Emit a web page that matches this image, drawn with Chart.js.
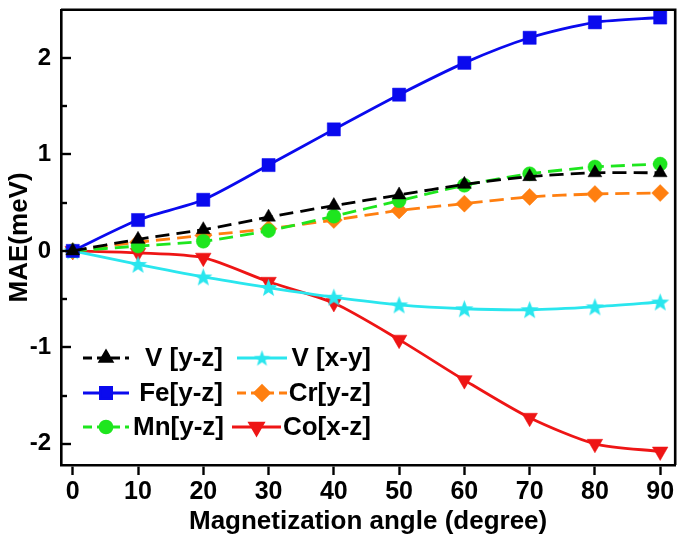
<!DOCTYPE html>
<html><head><meta charset="utf-8">
<script src="https://cdn.jsdelivr.net/npm/chart.js@4/dist/chart.umd.min.js"></script>
<style>html,body{margin:0;padding:0;background:#fff}#wrap{width:685px;height:541px}</style>
</head><body><div id="wrap"><canvas id="c" width="685" height="541"></canvas></div>
<script>
// ---- data ----
const angles = [0, 10, 20, 30, 40, 50, 60, 70, 80, 90];
const vYZ  = [0, 0.12, 0.22, 0.35, 0.47, 0.58, 0.69, 0.77, 0.81, 0.81];
const feYZ = [0, 0.32, 0.53, 0.89, 1.26, 1.62, 1.95, 2.21, 2.37, 2.42];
const mnYZ = [0, 0.05, 0.10, 0.21, 0.36, 0.52, 0.68, 0.80, 0.87, 0.90];
const vXY  = [0, -0.14, -0.27, -0.38, -0.48, -0.56, -0.60, -0.61, -0.58, -0.53];
const crYZ = [0, 0.09, 0.16, 0.23, 0.32, 0.42, 0.49, 0.56, 0.59, 0.60];
const coXZ = [0, -0.02, -0.07, -0.32, -0.54, -0.92, -1.34, -1.73, -2.00, -2.08];
const seriesNames = ['V [y-z]', 'Fe[y-z]', 'Mn[y-z]', 'V [x-y]', 'Cr[y-z]', 'Co[x-z]'];
const xTickValues = [0, 10, 20, 30, 40, 50, 60, 70, 80, 90];
const yTickValues = [-2, -1.5, -1, -0.5, 0, 0.5, 1, 1.5, 2];
const xTitle = 'Magnetization angle (degree)';
const yTitle = 'MAE(meV)';

// ---- styles ----
const FONT = "'Liberation Sans', Arial, sans-serif";
function starCanvas(color, size) {
  const c = document.createElement('canvas');
  c.width = size; c.height = size;
  const g = c.getContext('2d');
  const cx = size / 2, cy = size / 2 + 0.8, R = size / 2, r = R * 0.42;
  g.beginPath();
  for (let i = 0; i < 10; i++) {
    const rad = (i % 2 === 0) ? R : r;
    const a = -Math.PI / 2 + i * Math.PI / 5;
    const px = cx + rad * Math.cos(a), py = cy + rad * Math.sin(a);
    if (i === 0) g.moveTo(px, py); else g.lineTo(px, py);
  }
  g.closePath();
  g.fillStyle = color; g.fill();
  return c;
}
const cyan = '#2ae6ee';
const starImg = starCanvas(cyan, 19);
const starSmall = starCanvas(cyan, 17);

const values = [vYZ, feYZ, mnYZ, vXY, crYZ, coXZ];
const DASH = [14, 7];
const styles = [
  {color: '#000000', dash: DASH, ps: 'triangle', r: 8, rot: 0},
  {color: '#0a0aee', dash: [], ps: 'rect', r: 9.3, rot: 0},
  {color: '#1ee61e', dash: DASH, ps: 'circle', r: 7, rot: 0},
  {color: cyan, dash: [], ps: starImg, r: 9, rot: 0},
  {color: '#ff7f10', dash: DASH, ps: 'rectRot', r: 8.5, rot: 0},
  {color: '#ee1515', dash: [], ps: 'triangle', r: 9, rot: 180}
];

const datasets = seriesNames.map((name, i) => ({
  label: name,
  data: angles.map((a, j) => ({x: a, y: values[i][j]})),
  borderColor: styles[i].color,
  backgroundColor: styles[i].color,
  borderWidth: 2.8,
  borderDash: styles[i].dash,
  pointStyle: styles[i].ps,
  pointRadius: styles[i].r,
  pointHoverRadius: styles[i].r,
  pointRotation: styles[i].rot,
  pointBorderWidth: 0.5,
  pointBorderColor: styles[i].color,
  pointBackgroundColor: styles[i].color,
  tension: 0.25,
  clip: false
}));

const framePlugin = {
  id: 'frame',
  afterDraw(chart) {
    const {ctx, chartArea: a} = chart;
    const ys = chart.scales.y;
    ctx.save();
    ctx.strokeStyle = '#000'; ctx.lineWidth = 2.6;
    ctx.beginPath();
    ctx.moveTo(a.left, a.top); ctx.lineTo(a.right, a.top); ctx.lineTo(a.right, a.bottom);
    ctx.stroke();
    // inward y ticks
    ctx.lineWidth = 2.4;
    yTickValues.forEach(v => {
      const py = Math.round(ys.getPixelForValue(v));
      const len = Number.isInteger(v) ? 10 : 6;
      ctx.beginPath(); ctx.moveTo(a.left, py); ctx.lineTo(a.left + len, py); ctx.stroke();
    });
    ctx.restore();
  }
};

const legendPos = [
  {x0: 83, x1: 129, tx: 223, y: 358},
  {x0: 83, x1: 129, tx: 223, y: 393},
  {x0: 83, x1: 129, tx: 224, y: 427},
  {x0: 237, x1: 287, tx: 371, y: 358},
  {x0: 237, x1: 287, tx: 371, y: 393},
  {x0: 232, x1: 281, tx: 371, y: 427}
];
const legendPlugin = {
  id: 'customLegend',
  afterDraw(chart) {
    const ctx = chart.ctx;
    ctx.save();
    chart.data.datasets.forEach((ds, i) => {
      const p = legendPos[i];
      ctx.strokeStyle = ds.borderColor; ctx.fillStyle = ds.borderColor;
      ctx.lineWidth = 2.8;
      ctx.setLineDash(ds.borderDash.length ? [9, 5] : []);
      ctx.beginPath(); ctx.moveTo(p.x0, p.y); ctx.lineTo(p.x1, p.y); ctx.stroke();
      ctx.setLineDash([]);
      const ps = (ds.pointStyle === starImg) ? starSmall : ds.pointStyle;
      Chart.helpers.drawPoint(ctx, {pointStyle: ps, radius: ds.pointRadius * 0.85, rotation: ds.pointRotation, borderWidth: 0.5}, (p.x0 + p.x1) / 2, p.y);
      ctx.fillStyle = '#000';
      ctx.font = 'bold 26px ' + FONT;
      ctx.textAlign = 'right'; ctx.textBaseline = 'middle';
      ctx.fillText(ds.label, p.tx, p.y + 1);
    });
    ctx.restore();
  }
};

new Chart(document.getElementById('c'), {
  type: 'line',
  data: {datasets},
  options: {
    responsive: false,
    devicePixelRatio: 1,
    animation: false,
    layout: {padding: {left: 0, top: 8, right: 4, bottom: 0}},
    plugins: {legend: {display: false}, tooltip: {enabled: false}},
    scales: {
      x: {
        type: 'linear', min: -1.8, max: 92.3,
        afterBuildTicks: s => { s.ticks = xTickValues.map(v => ({value: v})); },
        afterFit: s => { s.height = 76; s.paddingLeft = 0; s.paddingRight = 0; },
        grid: {drawOnChartArea: false, drawTicks: true, tickLength: 10, tickWidth: 2.4, tickColor: '#000'},
        border: {display: true, color: '#000', width: 2.6},
        ticks: {color: '#000', font: {family: FONT, size: 25, weight: 'bold'}, padding: 2, maxRotation: 0, autoSkip: false},
        title: {display: true, text: xTitle, color: '#000', font: {family: FONT, size: 26, weight: 'bold'}, padding: {top: 0, bottom: 4}}
      },
      y: {
        type: 'linear', min: -2.22, max: 2.5,
        afterBuildTicks: s => { s.ticks = yTickValues.map(v => ({value: v})); },
        afterFit: s => { s.width = 61; s.paddingTop = 0; s.paddingBottom = 0; },
        grid: {drawOnChartArea: false, drawTicks: false},
        border: {display: true, color: '#000', width: 2.6},
        ticks: {color: '#000', font: {family: FONT, size: 24, weight: 'bold'}, padding: 10, autoSkip: false,
          callback: v => Number.isInteger(v) ? String(v) : ''},
        title: {display: true, text: yTitle, color: '#000', font: {family: FONT, size: 26, weight: 'bold'}, padding: {top: 4, bottom: 2}}
      }
    }
  },
  plugins: [framePlugin, legendPlugin]
});
</script>
</body></html>
